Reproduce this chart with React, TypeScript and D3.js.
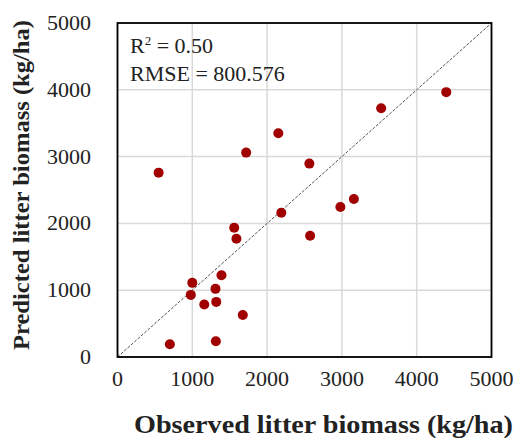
import React from "react";
import * as d3 from "d3";

const observed = [550, 1720, 2150, 2190, 1560, 1590, 1390, 1000, 980, 1310, 1320, 1160, 1675, 700, 1315, 2565, 2980, 3160, 3525, 4395, 2575];
const predicted = [2760, 3060, 3350, 2160, 1935, 1770, 1225, 1110, 930, 1020, 825, 785, 630, 190, 235, 2895, 2245, 2365, 3725, 3965, 1815];
const xTicks = [0, 1000, 2000, 3000, 4000, 5000];
const yTicks = [0, 1000, 2000, 3000, 4000, 5000];
const statLines = ["RMSE = 800.576"];

const font = "Liberation Serif, Times New Roman, Times, DejaVu Serif, serif";

export default function App() {
  const W = 517, H = 438;
  const left = 117.5, right = 491.5, top = 23, bottom = 357;
  const x = d3.scaleLinear().domain([0, 5000]).range([left, right]);
  const y = d3.scaleLinear().domain([0, 5000]).range([bottom, top]);
  return (
    <svg width={W} height={H} style={{ position: "absolute", left: 0, top: 0, background: "#fff" }}>
      <rect x={0} y={0} width={W} height={H} fill="#fff" />
      {xTicks.map((t) => (
        <line key={"gx" + t} x1={x(t)} x2={x(t)} y1={top} y2={bottom} stroke="#d9d9d9" strokeWidth={1.5} />
      ))}
      {yTicks.map((t) => (
        <line key={"gy" + t} x1={left} x2={right} y1={y(t)} y2={y(t)} stroke="#d9d9d9" strokeWidth={1.5} />
      ))}
      <line x1={x(0)} y1={y(0)} x2={x(5000)} y2={y(5000)} stroke="#555" strokeWidth={1} strokeDasharray="3,1.5" />
      {observed.map((o, i) => (
        <circle key={i} cx={x(o)} cy={y(predicted[i])} r={5} fill="#a00000" />
      ))}
      <rect x={left} y={top} width={right - left} height={bottom - top} fill="none" stroke="#000" strokeWidth={1.8} />
      <g style={{ fontFamily: font }}>
        {xTicks.map((t) => (
          <text key={"tx" + t} x={x(t)} y={386} textAnchor="middle" fontSize={22} fill="#222">
            {t}
          </text>
        ))}
        {yTicks.map((t) => (
          <text key={"ty" + t} x={91} y={y(t) + 7} textAnchor="end" fontSize={22} fill="#222">
            {t}
          </text>
        ))}
        <text x={130} y={53} fontSize={22} fill="#222">
          R<tspan dy={-8} fontSize={13}>2</tspan>
          <tspan dy={8}> = 0.50</tspan>
        </text>
        {statLines.map((s, i) => (
          <text key={s} x={130} y={81 + i * 28} fontSize={22} fill="#222">
            {s}
          </text>
        ))}
        <text x={323.5} y={433} textAnchor="middle" fontSize={25} fontWeight="bold" fill="#222" textLength={379} lengthAdjust="spacingAndGlyphs">
          Observed litter biomass (kg/ha)
        </text>
        <text transform="translate(29,185) rotate(-90)" textAnchor="middle" fontSize={24} fontWeight="bold" fill="#222" textLength={330} lengthAdjust="spacingAndGlyphs">
          Predicted litter biomass (kg/ha)
        </text>
      </g>
    </svg>
  );
}
